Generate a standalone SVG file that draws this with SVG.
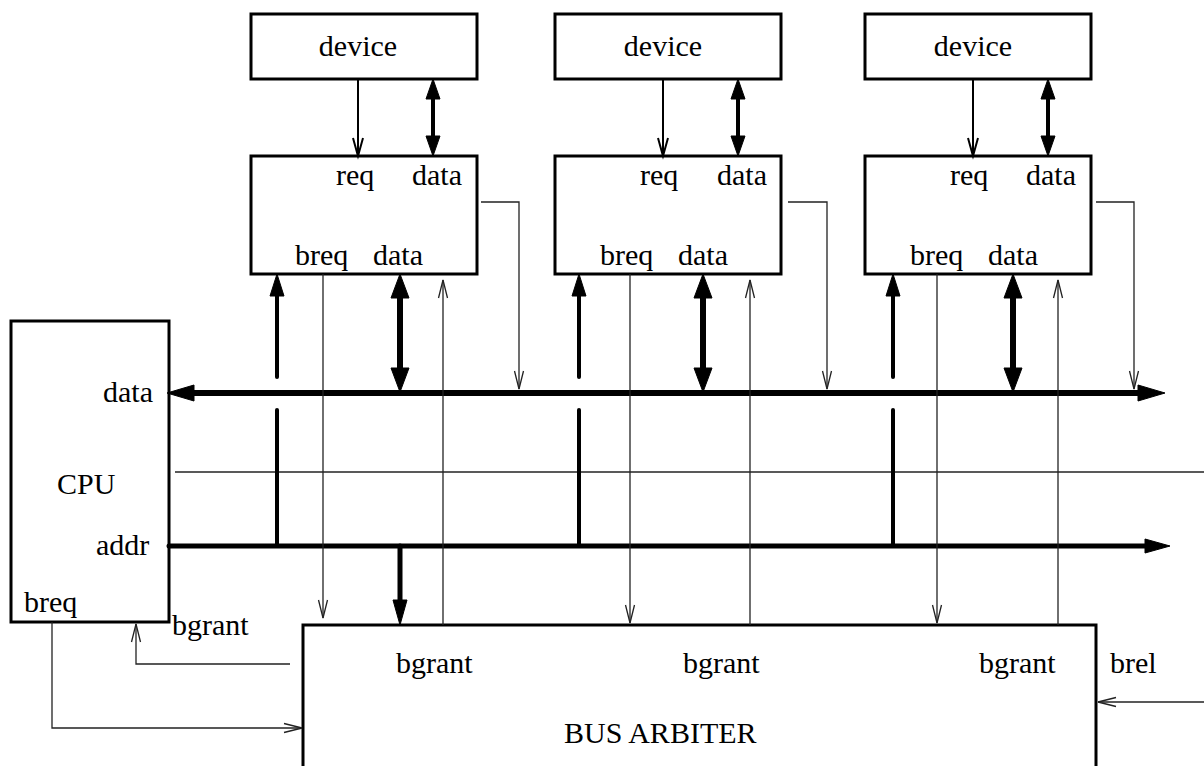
<svg xmlns="http://www.w3.org/2000/svg" width="1204" height="766" viewBox="0 0 1204 766">
  <style>
    .box { fill: #fff; stroke: #000; stroke-width: 3; }
    .t { font-family: "Liberation Serif", "Times New Roman", serif; font-size: 30px; fill: #000; }
    .thin { fill: none; stroke: #222; stroke-width: 1.3; }
    .req { fill: none; stroke: #000; stroke-width: 2; }
    .w4 { fill: none; stroke: #000; stroke-width: 4; stroke-linecap: round; }
    .w5 { fill: none; stroke: #000; stroke-width: 5; stroke-linecap: round; }
    .w6 { fill: none; stroke: #000; stroke-width: 6; stroke-linecap: round; }
  </style>
  <defs>
    <!-- open V heads: tip at the path end -->
    <marker id="openS" markerUnits="userSpaceOnUse" orient="auto-start-reverse" overflow="visible" refX="0" refY="0" markerWidth="1" markerHeight="1">
      <path d="M-18,-4.5 L0,0 L-18,4.5" fill="none" stroke="#222" stroke-width="1.3"/>
    </marker>
    <marker id="openM" markerUnits="userSpaceOnUse" orient="auto-start-reverse" overflow="visible" refX="0" refY="0" markerWidth="1" markerHeight="1">
      <path d="M-18,-5 L0,0 L-18,5" fill="none" stroke="#000" stroke-width="2"/>
    </marker>
    <!-- filled heads: base at the path end, tip ahead of it -->
    <marker id="headA" markerUnits="userSpaceOnUse" orient="auto-start-reverse" overflow="visible" refX="0" refY="0" markerWidth="1" markerHeight="1">
      <path d="M0,-7 L20,0 L0,7 Z" fill="#000" stroke="#000" stroke-width="1" stroke-linejoin="round"/>
    </marker>
    <marker id="headB" markerUnits="userSpaceOnUse" orient="auto-start-reverse" overflow="visible" refX="0" refY="0" markerWidth="1" markerHeight="1">
      <path d="M0,-7 L22,0 L0,7 Z" fill="#000" stroke="#000" stroke-width="1" stroke-linejoin="round"/>
    </marker>
    <marker id="headC" markerUnits="userSpaceOnUse" orient="auto-start-reverse" overflow="visible" refX="0" refY="0" markerWidth="1" markerHeight="1">
      <path d="M0,-9 L24,0 L0,9 Z" fill="#000" stroke="#000" stroke-width="1" stroke-linejoin="round"/>
    </marker>
    <marker id="headD" markerUnits="userSpaceOnUse" orient="auto-start-reverse" overflow="visible" refX="0" refY="0" markerWidth="1" markerHeight="1">
      <path d="M0,-8 L27,0 L0,8 Z" fill="#000" stroke="#000" stroke-width="1" stroke-linejoin="round"/>
    </marker>
    <marker id="headE" markerUnits="userSpaceOnUse" orient="auto-start-reverse" overflow="visible" refX="0" refY="0" markerWidth="1" markerHeight="1">
      <path d="M0,-7 L25,0 L0,7 Z" fill="#000" stroke="#000" stroke-width="1" stroke-linejoin="round"/>
    </marker>
  </defs>

  <rect width="1204" height="766" fill="#fff"/>

  <!-- devices -->
  <g id="device1">
    <rect class="box" x="251" y="14" width="226" height="65"/>
    <text class="t" x="358" y="56" text-anchor="middle">device</text>
  </g>
  <g id="device2">
    <rect class="box" x="555" y="14" width="226" height="65"/>
    <text class="t" x="663" y="56" text-anchor="middle">device</text>
  </g>
  <g id="device3">
    <rect class="box" x="865" y="14" width="226" height="65"/>
    <text class="t" x="973" y="56" text-anchor="middle">device</text>
  </g>

  <!-- bus interfaces -->
  <g id="iface1">
    <rect class="box" x="251" y="156" width="226" height="118"/>
    <text class="t" x="336" y="185">req</text>
    <text class="t" x="412" y="185">data</text>
    <text class="t" x="295" y="265">breq</text>
    <text class="t" x="373" y="265">data</text>
  </g>
  <g id="iface2">
    <rect class="box" x="555" y="156" width="226" height="118"/>
    <text class="t" x="640" y="185">req</text>
    <text class="t" x="717" y="185">data</text>
    <text class="t" x="600" y="265">breq</text>
    <text class="t" x="678" y="265">data</text>
  </g>
  <g id="iface3">
    <rect class="box" x="865" y="156" width="226" height="118"/>
    <text class="t" x="950" y="185">req</text>
    <text class="t" x="1026" y="185">data</text>
    <text class="t" x="910" y="265">breq</text>
    <text class="t" x="988" y="265">data</text>
  </g>

  <!-- CPU -->
  <g id="cpu">
    <rect class="box" x="11" y="321" width="158" height="301"/>
    <text class="t" x="153" y="402" text-anchor="end">data</text>
    <text class="t" x="57" y="494">CPU</text>
    <text class="t" x="96" y="555">addr</text>
    <text class="t" x="24" y="612">breq</text>
  </g>

  <!-- bus arbiter -->
  <g id="arbiter">
    <rect class="box" x="303" y="625" width="793" height="160"/>
    <text class="t" x="396" y="673">bgrant</text>
    <text class="t" x="683" y="673">bgrant</text>
    <text class="t" x="979" y="673">bgrant</text>
    <text class="t" x="564" y="743">BUS ARBITER</text>
  </g>

  <!-- free labels -->
  <g id="labels">
    <text class="t" x="172" y="635">bgrant</text>
    <text class="t" x="1110" y="673">brel</text>
  </g>

  <g id="connectors">
    <!-- system buses -->
    <path class="w6" d="M194,393 H1138" marker-start="url(#headD)" marker-end="url(#headD)"/>
    <path class="w5" d="M169,546 H1145" marker-end="url(#headE)"/>
    <path class="thin" d="M175,472 H1204"/>
    <path class="w5" d="M400,546 V600" marker-end="url(#headE)"/>

    <!-- column 1 -->
    <path class="req" d="M358,79 V156" marker-end="url(#openM)"/>
    <path class="w4" d="M433,99 V136" marker-start="url(#headA)" marker-end="url(#headA)"/>
    <path class="w4" d="M277,377 V296" marker-end="url(#headB)"/>
    <path class="w4" d="M277,410 V546"/>
    <path class="w6" d="M400,298 V368" marker-start="url(#headC)" marker-end="url(#headC)"/>
    <path class="thin" d="M323,274 V618" marker-end="url(#openS)"/>
    <path class="thin" d="M443,625 V280" marker-end="url(#openS)"/>
    <path class="thin" d="M481,202 H519 V389" marker-end="url(#openS)"/>

    <!-- column 2 -->
    <path class="req" d="M663,79 V156" marker-end="url(#openM)"/>
    <path class="w4" d="M738,99 V136" marker-start="url(#headA)" marker-end="url(#headA)"/>
    <path class="w4" d="M579,377 V296" marker-end="url(#headB)"/>
    <path class="w4" d="M579,410 V546"/>
    <path class="w6" d="M703,298 V368" marker-start="url(#headC)" marker-end="url(#headC)"/>
    <path class="thin" d="M630,274 V623" marker-end="url(#openS)"/>
    <path class="thin" d="M750,625 V280" marker-end="url(#openS)"/>
    <path class="thin" d="M788,202 H827 V389" marker-end="url(#openS)"/>

    <!-- column 3 -->
    <path class="req" d="M973,79 V156" marker-end="url(#openM)"/>
    <path class="w4" d="M1048,99 V136" marker-start="url(#headA)" marker-end="url(#headA)"/>
    <path class="w4" d="M893,377 V296" marker-end="url(#headB)"/>
    <path class="w4" d="M893,410 V546"/>
    <path class="w6" d="M1013,298 V368" marker-start="url(#headC)" marker-end="url(#headC)"/>
    <path class="thin" d="M937,274 V623" marker-end="url(#openS)"/>
    <path class="thin" d="M1058,625 V280" marker-end="url(#openS)"/>
    <path class="thin" d="M1096,202 H1134 V389" marker-end="url(#openS)"/>

    <!-- CPU / arbiter handshake -->
    <path class="thin" d="M290,664 H136 V624" marker-end="url(#openS)"/>
    <path class="thin" d="M52,622 V728 H302" marker-end="url(#openS)"/>
    <path class="thin" d="M1204,702 H1098" marker-end="url(#openS)"/>
  </g>
</svg>
